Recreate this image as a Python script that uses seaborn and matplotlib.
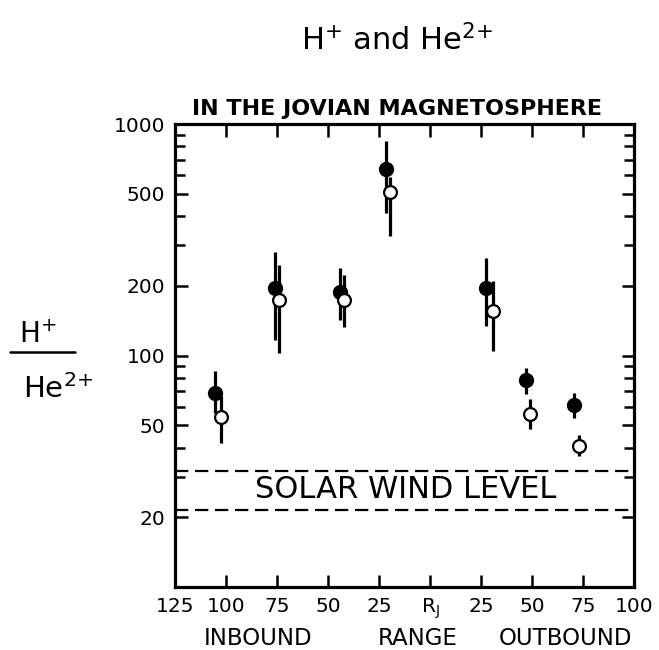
import matplotlib
matplotlib.use("Agg")
import matplotlib.pyplot as plt
import matplotlib.ticker as mticker
from matplotlib.lines import Line2D
import seaborn as sns

# position along the pass in R_J (inbound negative, outbound positive)
pos_filled = [-105.2, -75.8, -44.1, -21.7, 27.5, 47.1, 70.7]
pos_open = [-102.4, -73.9, -42.2, -19.6, 31.0, 49.2, 72.9]

# H+/He2+ ratios (filled and open symbols) with error bar ends
ratio_filled = [69, 195, 188, 638, 196, 78, 61]
filled_lo = [56.6, 117, 143, 412, 134, 67.9, 53.9]
filled_hi = [85.5, 279, 239, 847, 264, 88.5, 68.6]
ratio_open = [54, 173, 173, 509, 156, 56, 40.6]
open_lo = [42, 103, 133, 329, 105, 48.3, 36.8]
open_hi = [66.8, 246, 223, 593, 209, 65.1, 45.2]

solar_wind = [21.5, 31.7]

x_ticks = [-125, -100, -75, -50, -25, 0, 25, 50, 75, 100]
x_labels = ["125", "100", "75", "50", "25", r"R$_\mathregular{J}$", "25", "50", "75", "100"]
y_ticks = [20, 50, 100, 200, 500, 1000]
y_labels = ["20", "50", "100", "200", "500", "1000"]
y_minor = [30, 40, 60, 70, 80, 90, 300, 400, 600, 700, 800, 900]

sns.set_style("ticks")
plt.rcParams["font.family"] = ["DejaVu Sans"]
plt.rcParams["mathtext.default"] = "regular"
plt.rcParams["text.color"] = "black"
plt.rcParams["xtick.color"] = "black"
plt.rcParams["ytick.color"] = "black"

fig = plt.figure(figsize=(6.59, 6.5), dpi=100)
ax = fig.add_axes([175 / 659, 1 - 587 / 650, (634 - 175) / 659, (587 - 124) / 650])

ax.set_yscale("log")
ax.set_xlim(-125, 100)
ax.set_ylim(10, 1000)

# error bars
ax.vlines(pos_filled, filled_lo, filled_hi, color="black", lw=2.3, zorder=2)
ax.vlines(pos_open, open_lo, open_hi, color="black", lw=2.3, zorder=2)

sns.scatterplot(x=pos_filled, y=ratio_filled, ax=ax, color="black", s=100,
                edgecolor="black", linewidth=1, zorder=3)
sns.scatterplot(x=pos_open, y=ratio_open, ax=ax, color="white", s=85,
                edgecolor="black", linewidth=1.6, zorder=4)

for lvl in solar_wind:
    ax.axhline(lvl, color="black", lw=1.6, ls=(0, (6, 3)), zorder=1)
ax.text(-12, 26.4, "SOLAR WIND LEVEL", ha="center", va="center", fontsize=22)

ax.set_xticks(x_ticks)
ax.set_xticklabels(x_labels, fontsize=14.5)
ax.yaxis.set_major_locator(mticker.FixedLocator(y_ticks))
ax.yaxis.set_major_formatter(mticker.FixedFormatter(y_labels))
ax.yaxis.set_minor_locator(mticker.FixedLocator(y_minor))
ax.yaxis.set_minor_formatter(mticker.NullFormatter())
ax.tick_params(axis="y", labelsize=14.5)
ax.tick_params(which="both", direction="in", top=True, right=True, width=1.8, pad=7)
ax.tick_params(which="major", length=9)
ax.tick_params(which="minor", length=7)

for sp in ax.spines.values():
    sp.set_linewidth(2.3)
    sp.set_color("black")

# titles
fig.text(397 / 659, 1 - 50 / 650, r"H$^{{+}}$ and He$^{2{+}}$", ha="center", va="baseline", fontsize=22)
fig.text(397 / 659, 1 - 115 / 650, "IN THE JOVIAN MAGNETOSPHERE", ha="center", va="baseline",
         fontsize=16, fontweight="bold")

# y label as a fraction
fig.text(38 / 659, 1 - 343 / 650, r"H$^{{+}}$", ha="center", va="baseline", fontsize=20)
fig.add_artist(Line2D([10 / 659, 75 / 659], [1 - 352 / 650, 1 - 352 / 650], color="black", lw=1.8))
fig.text(58 / 659, 1 - 398 / 650, r"He$^{2{+}}$", ha="center", va="baseline", fontsize=21)

# bottom labels
fig.text(258 / 659, 1 - 645 / 650, "INBOUND", ha="center", va="baseline", fontsize=16.5)
fig.text(418 / 659, 1 - 645 / 650, "RANGE", ha="center", va="baseline", fontsize=16.5)
fig.text(565 / 659, 1 - 645 / 650, "OUTBOUND", ha="center", va="baseline", fontsize=16.5)

fig.savefig("out.png", dpi=100)
